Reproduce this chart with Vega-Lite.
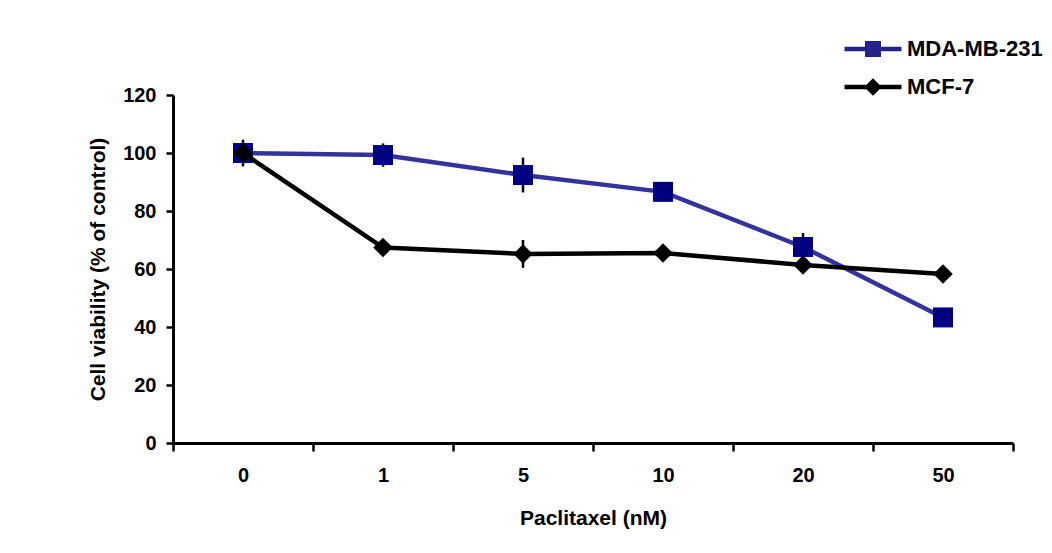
{
  "$schema": "https://vega.github.io/schema/vega-lite/v6.json",
  "autosize": {"type": "none"},
  "padding": {"left": 173, "top": 95, "right": 39, "bottom": 110},
  "width": 840,
  "height": 348,
  "background": "white",
  "config": {
    "view": {"stroke": null},
    "font": "Liberation Sans",
    "axis": {
      "labelFont": "Liberation Sans",
      "labelFontWeight": "bold",
      "labelColor": "black",
      "titleFont": "Liberation Sans",
      "titleFontWeight": "bold",
      "titleColor": "black",
      "domainColor": "black",
      "domainWidth": 3,
      "tickColor": "black",
      "tickWidth": 2.5,
      "grid": false
    }
  },
  "data": {
    "values": [
      {"conc": "0", "series": "MDA-MB-231", "v": 100.0, "err": 3},
      {"conc": "1", "series": "MDA-MB-231", "v": 99.3, "err": 4},
      {"conc": "5", "series": "MDA-MB-231", "v": 92.4, "err": 6},
      {"conc": "10", "series": "MDA-MB-231", "v": 86.6, "err": 2},
      {"conc": "20", "series": "MDA-MB-231", "v": 67.6, "err": 4.8},
      {"conc": "50", "series": "MDA-MB-231", "v": 43.3, "err": 2},
      {"conc": "0", "series": "MCF-7", "v": 100.0, "err": 4.6},
      {"conc": "1", "series": "MCF-7", "v": 67.4, "err": 2},
      {"conc": "5", "series": "MCF-7", "v": 65.2, "err": 4.8},
      {"conc": "10", "series": "MCF-7", "v": 65.5, "err": 1.5},
      {"conc": "20", "series": "MCF-7", "v": 61.4, "err": 1.5},
      {"conc": "50", "series": "MCF-7", "v": 58.3, "err": 1.5}
    ]
  },
  "encoding": {
    "x": {
      "field": "conc",
      "type": "ordinal",
      "sort": ["0", "1", "5", "10", "20", "50"],
      "scale": {"type": "band", "paddingInner": 0, "paddingOuter": 0},
      "axis": {
        "title": "Paclitaxel (nM)",
        "labelAngle": 0,
        "labelFontSize": 20,
        "titleFontSize": 21,
        "tickBand": "extent",
        "tickSize": 8,
        "labelPadding": 14,
        "titlePadding": 22
      }
    },
    "y": {
      "field": "v",
      "type": "quantitative",
      "scale": {"domain": [0, 120], "nice": false, "zero": true},
      "axis": {
        "title": "Cell viability (% of control)",
        "values": [0, 20, 40, 60, 80, 100, 120],
        "labelFontSize": 20,
        "titleFontSize": 21,
        "tickSize": 7,
        "labelPadding": 10,
        "titlePadding": 14
      }
    }
  },
  "layer": [
    {
      "mark": {"type": "errorbar", "ticks": false, "rule": {"color": "black", "strokeWidth": 2.5}},
      "encoding": {
        "y": {"field": "v", "type": "quantitative"},
        "yError": {"field": "err"}
      }
    },
    {
      "transform": [{"filter": "datum.series === 'MDA-MB-231'"}],
      "mark": {"type": "line", "color": "#333399", "strokeWidth": 4.5}
    },
    {
      "transform": [{"filter": "datum.series === 'MDA-MB-231'"}],
      "mark": {"type": "point", "shape": "square", "filled": true, "color": "#000080", "opacity": 1, "size": 400}
    },
    {
      "transform": [{"filter": "datum.series === 'MCF-7'"}],
      "mark": {"type": "line", "color": "black", "strokeWidth": 4.5}
    },
    {
      "transform": [{"filter": "datum.series === 'MCF-7'"}],
      "mark": {"type": "point", "shape": "diamond", "filled": true, "color": "black", "opacity": 1, "size": 380}
    },
    {
      "mark": {"type": "point", "filled": true, "opacity": 0},
      "encoding": {
        "color": {
          "field": "series",
          "type": "nominal",
          "scale": {"domain": ["MDA-MB-231", "MCF-7"], "range": ["#22228a", "#000000"]},
          "legend": {
            "title": null,
            "orient": "none",
            "legendX": 689,
            "legendY": -57,
            "symbolSize": 400,
            "symbolOpacity": 1,
            "symbolStrokeWidth": 0,
            "labelFont": "Liberation Sans",
            "labelFontWeight": "bold",
            "labelFontSize": 22,
            "labelColor": "black",
            "labelOffset": 23,
            "rowPadding": 16
          }
        },
        "shape": {
          "field": "series",
          "type": "nominal",
          "scale": {
            "domain": ["MDA-MB-231", "MCF-7"],
            "range": [
              "M-2.85,-0.22H2.85V0.22H-2.85ZM-0.8,-0.8H0.8V0.8H-0.8Z",
              "M-2.85,-0.22H2.85V0.22H-2.85ZM0,-0.88L0.88,0L0,0.88L-0.88,0Z"
            ]
          },
          "legend": {
            "title": null,
            "orient": "none",
            "legendX": 689,
            "legendY": -57,
            "symbolSize": 400,
            "symbolOpacity": 1,
            "symbolStrokeWidth": 0,
            "labelFont": "Liberation Sans",
            "labelFontWeight": "bold",
            "labelFontSize": 22,
            "labelColor": "black",
            "labelOffset": 23,
            "rowPadding": 16
          }
        }
      }
    }
  ]
}
